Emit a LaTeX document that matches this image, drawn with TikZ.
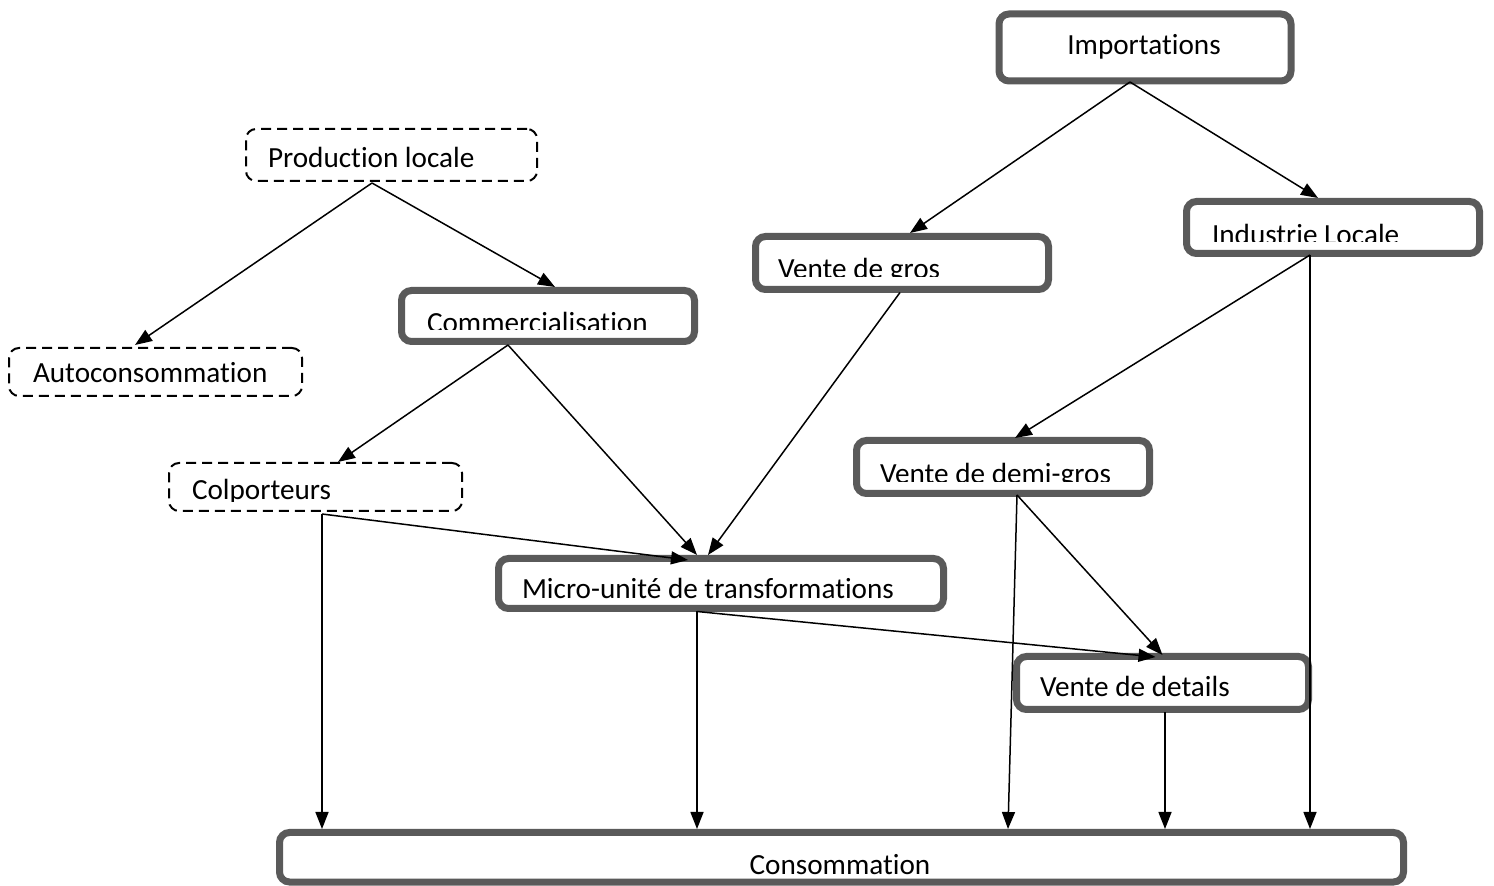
\documentclass[tikz,border=0pt]{standalone}
\usepackage{fontspec}
\setmainfont{Carlito}[Ligatures=NoCommon]
\usetikzlibrary{calc,arrows.meta}
\definecolor{boxgray}{HTML}{5A5A5A}
\tikzset{
  thickbox/.style={draw=boxgray, line width=3.5pt, rounded corners=5pt, rectangle, inner sep=0pt, outer sep=0pt, fill=white},
  dashbox/.style={draw=black, line width=1pt, dash pattern=on 5pt off 3pt, rounded corners=5pt, rectangle, inner sep=0pt, outer sep=0pt},
  txt/.style={inner sep=0pt, outer sep=0pt, font=\fontsize{14.6pt}{17pt}\selectfont, text=black},
  conn/.style={draw=black, line width=0.75pt, -{Triangle[length=8.5pt,width=6.5pt]}},
}
\begin{document}
\begin{tikzpicture}[x=0.5pt,y=-0.5pt]
\useasboundingbox (0,0) rectangle (1494,886);
% boxes
\node[thickbox, minimum width=146pt, minimum height=33.5pt] (imp) at (1145,47.5) {};
\node[dashbox, minimum width=145.5pt, minimum height=26pt] (prod) at (391.5,155) {};
\node[dashbox, minimum width=146.5pt, minimum height=24pt] (auto) at (155.5,372) {};
\node[thickbox, minimum width=146.5pt, minimum height=25.5pt] (comm) at (548,316) {};
\node[thickbox, minimum width=146.5pt, minimum height=26.5pt] (vgros) at (902,263) {};
\node[thickbox, minimum width=146.5pt, minimum height=26pt] (ind) at (1333,227.5) {};
\node[dashbox, minimum width=146.5pt, minimum height=24pt] (colp) at (315.5,487) {};
\node[thickbox, minimum width=222.5pt, minimum height=25pt] (micro) at (721,583.5) {};
\node[thickbox, minimum width=146.5pt, minimum height=26.5pt] (demi) at (1003,467) {};
\node[thickbox, minimum width=146pt, minimum height=26.5pt] (det) at (1162.5,683) {};
\node[thickbox, minimum width=562pt, minimum height=24.75pt] (cons) at (841.5,857.25) {};
% texts
\node[txt, anchor=base] (impt) at (1144,55) {Importations};
\node[txt, anchor=base west] (prodt) at (268,168) {Production locale};
\node[txt, anchor=base west] (autot) at (33,383) {Autoconsommation};
\begin{scope}\clip (0,0) rectangle (1494,330);
\node[txt, anchor=base west] (commt) at (427,333) {Commercialisation};
\end{scope}
\begin{scope}\clip (0,0) rectangle (1494,277);
\node[txt, anchor=base west] (vgrost) at (778,279) {Vente de gros};
\end{scope}
\begin{scope}\clip (0,0) rectangle (1494,242);
\node[txt, anchor=base west] (indt) at (1212,245) {Industrie Locale};
\end{scope}
\begin{scope}\clip (0,0) rectangle (1494,502);
\node[txt, anchor=base west] (colpt) at (192,500) {Colporteurs};
\end{scope}
\begin{scope}\clip (0,0) rectangle (1494,603);
\node[txt, anchor=base west] (microt) at (522,599) {Micro-unité de transformations};
\end{scope}
\begin{scope}\clip (0,0) rectangle (1494,482);
\node[txt, anchor=base west] (demit) at (880,484) {Vente de demi-gros};
\end{scope}
\begin{scope}\clip (0,0) rectangle (1494,697);
\node[txt, anchor=base west] (dett) at (1040,697) {Vente de details};
\end{scope}
\begin{scope}\clip (0,0) rectangle (1494,874);
\node[txt, anchor=base] (const) at (840,874) {Consommation};
\end{scope}
% connection points
\coordinate (impS) at ($(imp.south)+(-15,1)$);
\coordinate (prodS) at ($(prod.south)+(-19.5,2)$);
\coordinate (commS) at ($(comm.south)+(-40,3.5)$);
\coordinate (vgrosS) at ($(vgros.south)+(-2,3)$);
\coordinate (indS) at ($(ind.south)+(-23,1.5)$);
\coordinate (colpS) at ($(colp.south)+(6.5,3)$);
\coordinate (microS) at ($(micro.south)+(-24,3)$);
\coordinate (demiS) at ($(demi.south)+(14,1.5)$);
\coordinate (detS) at ($(det.south)+(2.5,3)$);
% connectors
\draw[conn] (impS) -- ($(vgros.north)+(8,-3.5)$);
\draw[conn] (impS) -- ($(ind.north)+(-15,-3.5)$);
\draw[conn] (prodS) -- ($(auto.north)+(-20.5,-3)$);
\draw[conn] (prodS) -- ($(comm.north)+(7,-3.5)$);
\draw[conn] (commS) -- ($(colp.north)+(22.5,-1)$);
\draw[conn] (commS) -- ($(micro.north)+(-24,-3.5)$);
\draw[conn] (vgrosS) -- ($(micro.north)+(-13,-3.5)$);
\draw[conn] (colpS) -- ($(micro.north)+(-33,1.5)$);
\draw[conn] (colpS) -- ($(cons.north)+(-519.5,-3.5)$);
\draw[conn] (indS) -- ($(demi.north)+(12,-2.5)$);
\draw[conn] (indS) -- ($(cons.north)+(468.5,-3.5)$);
\draw[conn] (demiS) -- ($(cons.north)+(166.5,-3.5)$);
\draw[conn] (demiS) -- ($(det.north)+(0,-1.5)$);
\draw[conn] (microS) -- ($(det.north)+(-7,0.5)$);
\draw[conn] (microS) -- ($(cons.north)+(-144.5,-3.5)$);
\draw[conn] (detS) -- ($(cons.north)+(323.5,-3.5)$);
\end{tikzpicture}
\end{document}
